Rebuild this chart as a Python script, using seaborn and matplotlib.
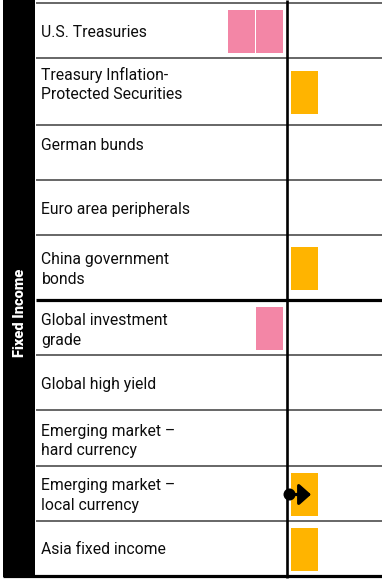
import matplotlib
matplotlib.use("Agg")
import matplotlib.pyplot as plt
import seaborn as sns
import numpy as np
from matplotlib.patches import Rectangle

# ---------------- data ----------------
assets = [
    "U.S. Treasuries",
    "Treasury Inflation-\nProtected Securities",
    "German bunds",
    "Euro area peripherals",
    "China government\nbonds",
    "Global investment\ngrade",
    "Global high yield",
    "Emerging market –\nhard currency",
    "Emerging market –\nlocal currency",
    "Asia fixed income",
]
view = [-2, 1, 0, 0, 1, -1, 0, 0, 1, 1]
previous_view = [-2, 1, 0, 0, 1, -1, 0, 0, 0, 1]
group_label = "Fixed Income"

# ---------------- layout / style ----------------
W, H = 382, 580
CENTER_PX = 287
NOTCH_PX = 28
ROW_TOP = 3
ROW_HEIGHTS = [55, 67, 55, 55, 65, 55, 55, 56, 55, 55]
THICK_AFTER = {4}
LABEL_SHIFT = [2, -7, -7, 2, 2, 3, 2, 3, 2, 1]
BOX_H = 43
BOX_GAP = 0.16
BOX_W = 0.93
PINK = "#F386A6"
ORANGE = "#FFB400"
TEXT = "#0d0d0d"
GRID = "#4d4d4d"

sns.set_theme(style="white")
plt.rcParams["font.family"] = ["Roboto", "DejaVu Sans"]


def ux(px):
    return (px - CENTER_PX) / NOTCH_PX


edges = ROW_TOP + np.concatenate([[0], np.cumsum(ROW_HEIGHTS)])
centers = (edges[:-1] + edges[1:]) / 2

fig = plt.figure(figsize=(W / 100, H / 100), dpi=100)
ax = fig.add_axes([0, 0, 1, 1])

# boxes (one per notch)
for i, v in enumerate(view):
    sign = int(np.sign(v))
    for k in range(abs(v)):
        sns.barplot(
            x=[sign * BOX_W], y=[centers[i] + 1], orient="h", native_scale=True,
            width=BOX_H, left=sign * (BOX_GAP + k),
            color=PINK if v < 0 else ORANGE, saturation=1,
            errorbar=None, linewidth=0, ax=ax,
        )

# change arrows
for i, (p, v) in enumerate(zip(previous_view, view)):
    if p != v:
        y = centers[i] + 1
        d = np.sign(v - p)
        tip = v - d * 0.14
        ax.annotate(
            "", xy=(tip, y), xytext=(p + d * 0.09, y),
            arrowprops=dict(arrowstyle="-|>,head_length=0.36,head_width=0.32",
                            mutation_scale=20, color="black", lw=2.3,
                            shrinkA=0, shrinkB=0),
            zorder=6,
        )
        sns.scatterplot(x=[p + d * 0.09], y=[y], s=75, color="black",
                        edgecolor="none", ax=ax, zorder=7)

# row rules
x_left, x_right = ux(36), ux(W)
for j, e in enumerate(edges):
    if j == len(edges) - 1:
        ax.hlines(e, ux(3), x_right, color="black", lw=2.3, zorder=3)
    elif j > 0 and (j - 1) in THICK_AFTER:
        ax.hlines(e, x_left, x_right, color="black", lw=2.3, zorder=3)
    else:
        ax.hlines(e, x_left, x_right, color=GRID, lw=1.2, zorder=3)

# centre line
ax.vlines(0, 0, 578, color="black", lw=1.9, zorder=4)

# group band
ax.add_patch(Rectangle((ux(3), 0), ux(35) - ux(3), 577, color="black", lw=0, zorder=2))
ax.text(ux(20), 313, group_label, rotation=90, color="white",
        fontweight="heavy", fontsize=10.5, ha="center", va="center", zorder=5)

# labels
for i, name in enumerate(assets):
    ax.text(ux(41.5), centers[i] + LABEL_SHIFT[i], name, ha="left", va="center",
            fontsize=11.3, color=TEXT, linespacing=1.35, zorder=5)

ax.set_xlim(ux(0), ux(W))
ax.set_ylim(H, 0)
ax.axis("off")

fig.savefig("out.png", dpi=100)
